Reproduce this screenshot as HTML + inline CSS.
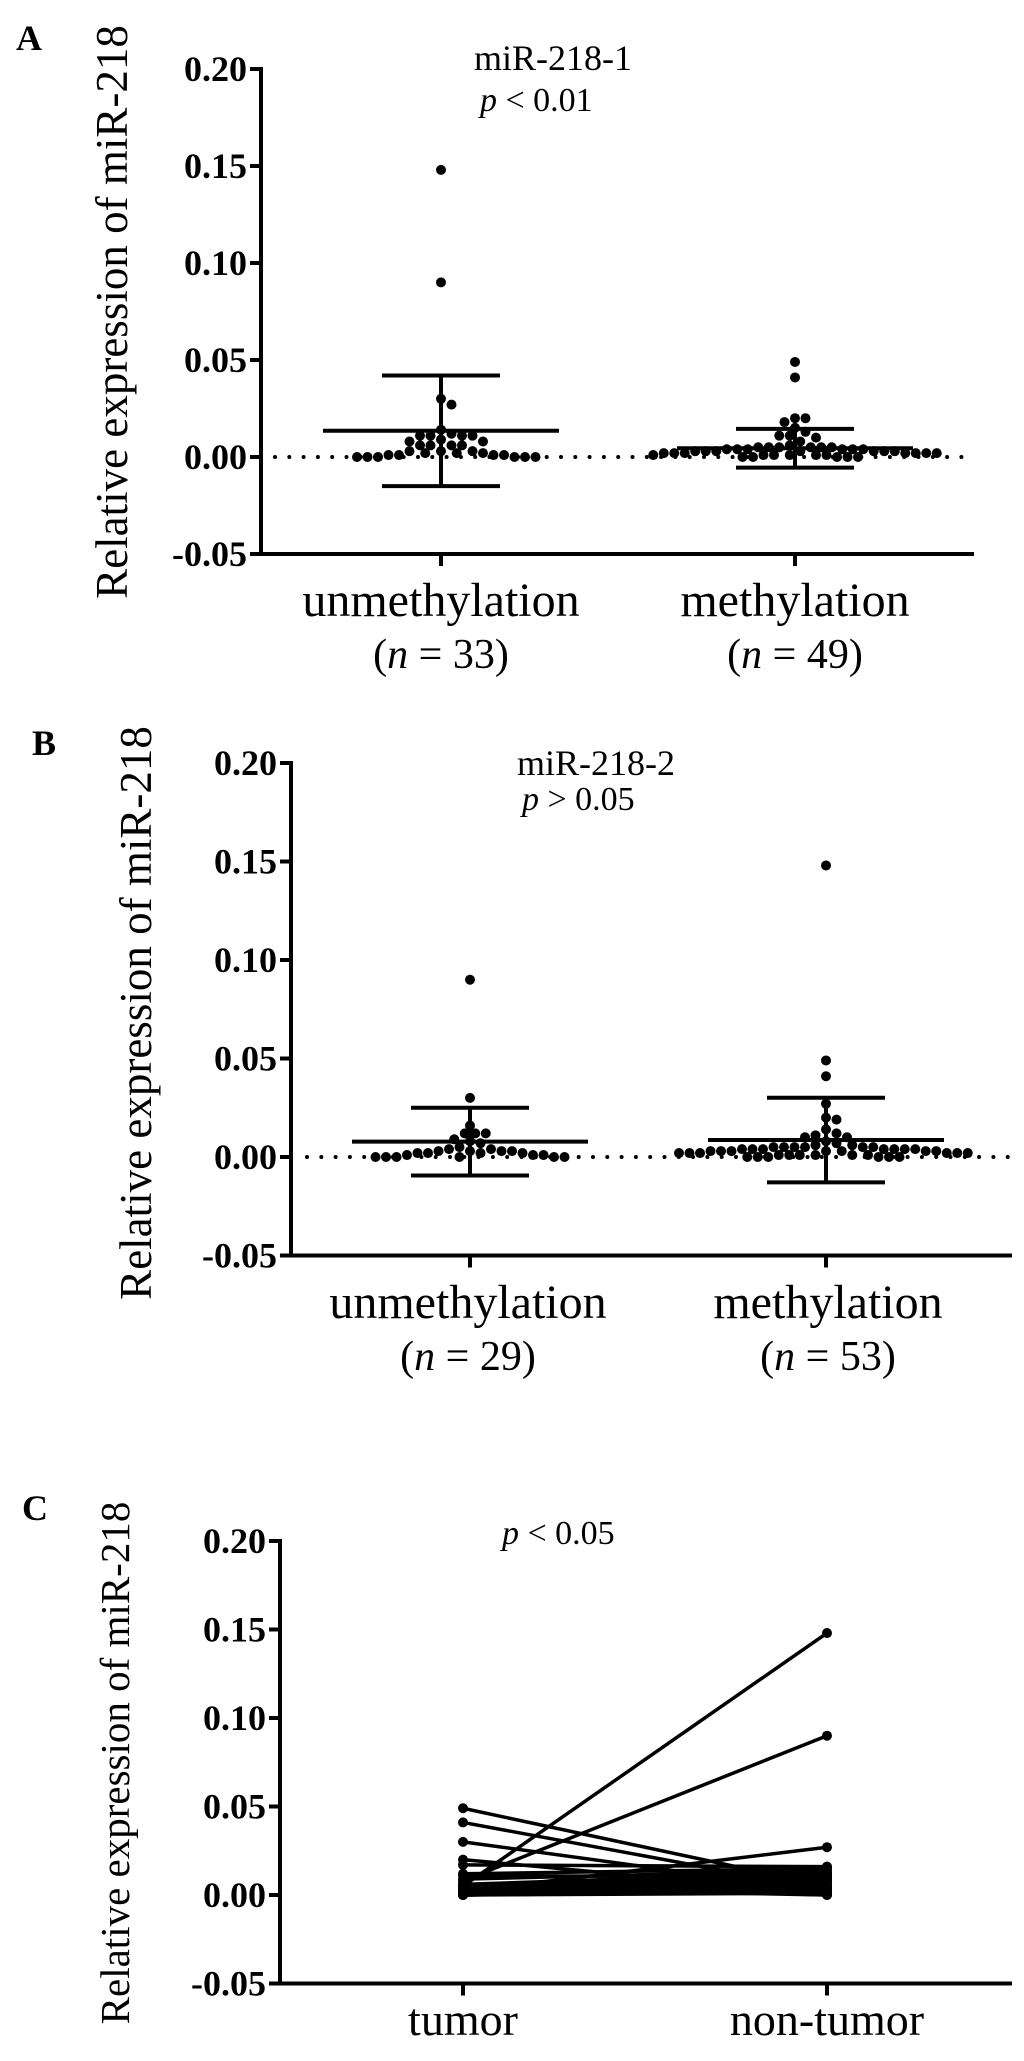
<!DOCTYPE html>
<html><head><meta charset="utf-8">
<style>
html,body{margin:0;padding:0;background:#fff;}
svg{display:block;}
text{font-family:"Liberation Serif",serif;fill:#000;}
</style></head>
<body>
<svg id="fig" width="1024" height="2061" viewBox="0 0 1024 2061" xmlns="http://www.w3.org/2000/svg">
  <text x="16" y="50" font-size="36" font-weight="bold">A</text>
  <text x="32" y="755" font-size="36" font-weight="bold">B</text>
  <text x="22" y="1520" font-size="36" font-weight="bold">C</text>

  <text x="474" y="70" font-size="36">miR-218-1</text>
  <text x="480" y="111" font-size="34"><tspan font-style="italic">p</tspan> &lt; 0.01</text>
  <text x="517" y="775" font-size="36">miR-218-2</text>
  <text x="522" y="810" font-size="34"><tspan font-style="italic">p</tspan> &gt; 0.05</text>
  <text x="502" y="1544" font-size="34"><tspan font-style="italic">p</tspan> &lt; 0.05</text>

  <text transform="translate(127,312) rotate(-90)" text-anchor="middle" font-size="45">Relative expression of miR-218</text>
  <text transform="translate(151,1013) rotate(-90)" text-anchor="middle" font-size="45">Relative expression of miR-218</text>
  <text transform="translate(129,1763) rotate(-90)" text-anchor="middle" font-size="41">Relative expression of miR-218</text>

  <text x="441" y="616" text-anchor="middle" font-size="48">unmethylation</text>
  <text x="441" y="668" text-anchor="middle" font-size="42">(<tspan font-style="italic">n</tspan> = 33)</text>
  <text x="795" y="616" text-anchor="middle" font-size="48">methylation</text>
  <text x="795" y="668" text-anchor="middle" font-size="42">(<tspan font-style="italic">n</tspan> = 49)</text>

  <text x="468" y="1318" text-anchor="middle" font-size="48">unmethylation</text>
  <text x="468" y="1370" text-anchor="middle" font-size="42">(<tspan font-style="italic">n</tspan> = 29)</text>
  <text x="828" y="1318" text-anchor="middle" font-size="48">methylation</text>
  <text x="828" y="1370" text-anchor="middle" font-size="42">(<tspan font-style="italic">n</tspan> = 53)</text>

  <text x="463" y="2035" text-anchor="middle" font-size="46">tumor</text>
  <text x="827" y="2035" text-anchor="middle" font-size="46">non-tumor</text>
</svg>
<script>
// ---- data ----
const yTicks = [0.20, 0.15, 0.10, 0.05, 0.00, -0.05];
const yTickLabels = ["0.20", "0.15", "0.10", "0.05", "0.00", "-0.05"];
const aUnmeth = [0.148,0.090,0.030,0.027,0.014,0.012,0.011,0.011,0.011,0.011,0.009,0.008,0.008,0.006,0.006,0.006,0.006,0.003,0.003,0.003,0.002,0.002,0.002,0.001,0.001,0.001,0.001,0.000,0.000,0.000,0.000,0.000,0.000];
const aMeth = [0.049,0.041,0.020,0.020,0.018,0.015,0.013,0.011,0.011,0.010,0.008,0.006,
  0.005,0.005,0.005,0.005,0.005,0.005,0.004,0.004,0.004,0.004,0.004,0.004,0.003,0.003,0.003,0.003,0.003,0.003,0.003,
  0.002,0.002,0.002,0.002,0.002,0.002,0.002,0.001,0.001,0.001,0.001,0.001,0.001,0.000,0.000,0.000,0.000,0.000];
const bUnmeth = [0.090,0.030,0.016,0.012,0.012,0.012,0.009,0.008,0.007,0.005,0.004,0.004,0.003,0.003,0.003,0.003,0.002,0.002,0.002,0.002,0.001,0.001,0.001,0.000,0.000,0.000,0.000,0.000,0.000];
const bMeth = [0.148,0.049,0.041,0.027,0.020,0.019,0.014,0.012,0.011,0.010,0.010,0.008,0.007,0.006,0.006,
  0.005,0.005,0.005,0.005,0.005,0.005,0.004,0.004,0.004,0.004,0.004,0.004,0.004,0.003,0.003,0.003,0.003,0.003,0.003,0.003,
  0.002,0.002,0.002,0.002,0.002,0.002,0.001,0.001,0.001,0.001,0.001,0.001,0.000,0.000,0.000,0.000,0.000,0.000];
const aMeans = [0.0135, 0.0045];
const aSDs = [0.0285, 0.0100];
const bMeans = [0.0078, 0.0086];
const bSDs = [0.0172, 0.0215];
const cTumor = [0.049,0.041,0.030,0.020,0.011,0.005,0.008,0.002,0.017,0.012,0.009,0.006,0.004,0.003,0.003,0.002,0.002,0.001,0.001,0.001,0.000,0.000,0.000,0.000,0.004,0.006,0.002,0.001,0.000,0.003];
const cNonTumor = [0.005,0.003,0.002,0.001,0.010,0.148,0.090,0.027,0.016,0.015,0.014,0.013,0.012,0.011,0.010,0.009,0.008,0.007,0.006,0.005,0.004,0.003,0.002,0.001,0.000,0.000,0.016,0.012,0.008,0.004];

const NS = "http://www.w3.org/2000/svg";
const svg = document.getElementById('fig');
function mk(tag, attrs){ const e=document.createElementNS(NS,tag); for(const k in attrs) e.setAttribute(k,attrs[k]); svg.appendChild(e); return e; }

function makeScale(y0val, y0px, pxPer005){ return v => y0px - (v/0.05)*pxPer005; }

function drawAxes(p, key){
  const y = p.y;
  let e = mk('line',{x1:p.ax,y1:y(0.20)-2,x2:p.ax,y2:y(-0.05)+2,stroke:'#000','stroke-width':4});
  
  
  e = mk('line',{x1:p.ax-2,y1:y(-0.05),x2:p.axEnd,y2:y(-0.05),stroke:'#000','stroke-width':4});
  
  
  yTicks.forEach((t,i)=>{
    const tk = mk('line',{x1:p.ax-11,y1:y(t),x2:p.ax,y2:y(t),stroke:'#000','stroke-width':4});
    
    
    const tx = mk('text',{x:p.ax-14,y:y(t)+12,'text-anchor':'end','font-size':36,'font-weight':'bold'});
    tx.textContent = yTickLabels[i];
    
    
  });
  p.cats.forEach(cx=>{
    const tk = mk('line',{x1:cx,y1:y(-0.05),x2:cx,y2:y(-0.05)+12,stroke:'#000','stroke-width':4});
    
    
  });
}

function zeroLine(p, key){
  for(let x=p.zx0; x<=p.zx1; x+=14.3){
    const d = mk('circle',{cx:x,cy:p.y(0),r:2,fill:'#000'});
    
    
  }
}

function swarm(vals, cx, y, r, key, name){
  const placed=[];
  const sorted = vals.slice().sort((a,b)=>b-a);
  sorted.forEach(v=>{
    const py = y(v);
    let k=0, px=cx;
    while(true){
      const off = Math.ceil(k/2)*(r*1.05)*(k%2?1:-1);
      px = cx+off;
      if(placed.every(q=>(q[0]-px)**2+(q[1]-py)**2 >= (1.7*r)**2)) break;
      k++;
    }
    placed.push([px,py]);
    const c = mk('circle',{cx:px,cy:py,r:r,fill:'#000'});
    
    
  });
}

function errBar(cx, y, mean, sd, key, name){
  let e = mk('line',{x1:cx-118,y1:y(mean),x2:cx+118,y2:y(mean),stroke:'#000','stroke-width':4});
  
  
  e = mk('line',{x1:cx,y1:y(mean+sd),x2:cx,y2:y(mean-sd),stroke:'#000','stroke-width':4});
  
  
  e = mk('line',{x1:cx-59,y1:y(mean+sd),x2:cx+59,y2:y(mean+sd),stroke:'#000','stroke-width':4});
  
  
  e = mk('line',{x1:cx-59,y1:y(mean-sd),x2:cx+59,y2:y(mean-sd),stroke:'#000','stroke-width':4});
  
  
}

// Panel A
const pA = {ax:261, axEnd:974, y:makeScale(0,457,97), cats:[441,795], zx0:275, zx1:972};
drawAxes(pA,'panel-a'); zeroLine(pA,'panel-a');
swarm(aUnmeth, pA.cats[0], pA.y, 5, 'panel-a','unmethylation');
swarm(aMeth, pA.cats[1], pA.y, 5, 'panel-a','methylation');
errBar(pA.cats[0], pA.y, aMeans[0], aSDs[0], 'panel-a','unmethylation');
errBar(pA.cats[1], pA.y, aMeans[1], aSDs[1], 'panel-a','methylation');

// Panel B
const pB = {ax:291, axEnd:1012, y:makeScale(0,1157,98.5), cats:[470,826], zx0:307, zx1:1012};
drawAxes(pB,'panel-b'); zeroLine(pB,'panel-b');
swarm(bUnmeth, pB.cats[0], pB.y, 5, 'panel-b','unmethylation');
swarm(bMeth, pB.cats[1], pB.y, 5, 'panel-b','methylation');
errBar(pB.cats[0], pB.y, bMeans[0], bSDs[0], 'panel-b','unmethylation');
errBar(pB.cats[1], pB.y, bMeans[1], bSDs[1], 'panel-b','methylation');

// Panel C
const pC = {ax:280, axEnd:1012, y:makeScale(0,1895,88.5), cats:[463,827]};
drawAxes(pC,'panel-c');
cTumor.forEach((v,i)=>{
  const l = mk('line',{x1:pC.cats[0],y1:pC.y(v),x2:pC.cats[1],y2:pC.y(cNonTumor[i]),stroke:'#000','stroke-width':3.5});
  
  
  const a = mk('circle',{cx:pC.cats[0],cy:pC.y(v),r:5,fill:'#000'});
  
  
  const b = mk('circle',{cx:pC.cats[1],cy:pC.y(cNonTumor[i]),r:5,fill:'#000'});
  
  
});
</script>
</body></html>
